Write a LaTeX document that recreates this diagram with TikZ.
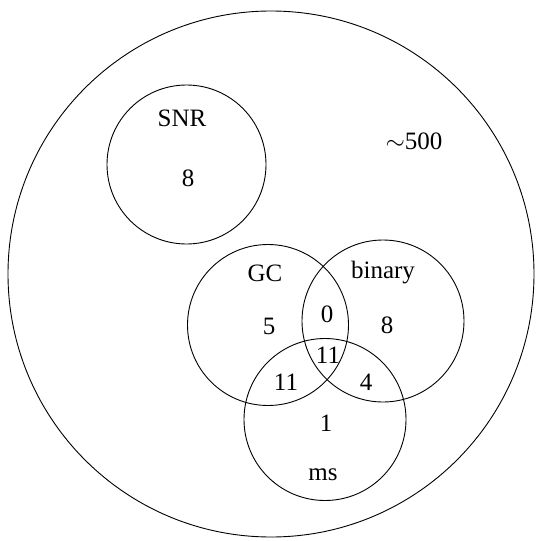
\documentclass[tikz,border=0pt]{standalone}
\usepackage{fontspec}
\setmainfont{Liberation Serif}
\begin{document}
\begin{tikzpicture}[x=1pt,y=-1pt,
  setcirc/.style={circle, draw=black, line width=0.9pt, inner sep=0pt, minimum size=#1},
  lbl/.style={font=\fontsize{25}{28}\selectfont, inner sep=0pt, anchor=center}]
\useasboundingbox (0,0) rectangle (537,541);
\node[setcirc=526pt] (all) at (271,274) {};
\node[setcirc=159pt] (snr) at (186.5,164.5) {};
\node[setcirc=161pt] (gc) at (268,325) {};
\node[setcirc=162pt] (bin) at (383,321) {};
\node[setcirc=162pt] (ms) at (325,419.5) {};
\node[lbl] (tsnr) at (182,118) {SNR};
\node[lbl] (nsnr) at (188,178) {8};
\node[lbl] (nall) at (414,141) {$\sim$500};
\node[lbl] (tgc) at (265,273) {GC};
\node[lbl] (tbin) at (383,273) {binary};
\node[lbl] (ngc) at (269,326) {5};
\node[lbl] (ngb) at (327,314) {0};
\node[lbl] (nbin) at (387,325) {8};
\node[lbl] (nall3) at (328,355) {11};
\node[lbl] (ngm) at (286,382) {11};
\node[lbl] (nbm) at (366,382) {4};
\node[lbl] (nms) at (326,423) {1};
\node[lbl] (tms) at (323,475) {ms};
\end{tikzpicture}
\end{document}
